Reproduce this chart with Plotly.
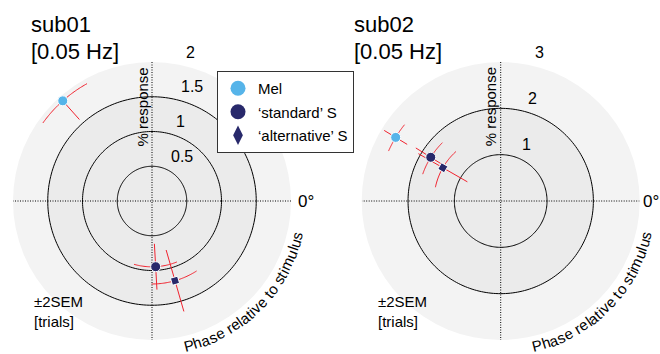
import numpy as np
import plotly.graph_objects as go

FONT = "Liberation Sans, Arial, Helvetica, sans-serif"

# ---------------- data ----------------
subjects = ["sub01", "sub02"]
freq_label = "[0.05 Hz]"
series_names = ["Mel", "\u2018standard\u2019 S", "\u2018alternative\u2019 S"]

sub01_amp = [1.93, 0.947, 1.194]
sub01_phase = [131.7, -86.8, -73.9]
sub01_amp_err = [0.36, 0.33, 0.46]
sub01_phase_err = [12.7, 19.0, 16.4]
sub01_ticks = [0.5, 1, 1.5, 2]
sub01_tick_labels = ["0.5", "1", "1.5", "2"]

sub02_amp = [2.65, 1.78, 1.44]
sub02_phase = [148.8, 148.0, 150.1]
sub02_amp_err = [0.29, 0.38, 0.61]
sub02_phase_err = [7.2, 13.0, 18.0]
sub02_ticks = [1, 2, 3]
sub02_tick_labels = ["1", "2", "3"]

angle_label = "0\u00b0"
radial_title = "% response"
phase_title = "Phase relative to stimulus"
sem_note = "\u00b12SEM<br>[trials]"

# ---------------- styles / layout ----------------
W, H = 660, 354
R_PX = 139
CENTERS = [(152, 201), (500.7, 201)]
SEM_DX_PX = [-120, -125]
TITLE_X_PX = [29, 352]
COLORS = ["#56b4e9", "#28296b", "#28296b"]
SYMBOLS = ["circle", "circle", "diamond"]
SIZES = [10, 10, 8]
LEG_SYMBOLS = ["circle", "circle", "diamond-tall"]
LEG_SIZES = [15, 15, 14]
RED = "#f0222e"
BG_OUT = "#f3f3f3"
BG_IN = "#ebebeb"

# Helvetica/Arial advance widths (em) for arc text layout
CW = {"P": .667, "h": .556, "a": .556, "s": .5, "e": .556, " ": .278, "r": .333,
      "l": .222, "t": .278, "i": .222, "v": .5, "o": .556, "m": .833, "u": .556}
ARC_FONT = 15
ARC_R_PX = 149
ARC_START_DEG = -75.8

subs = [
    dict(amp=sub01_amp, ph=sub01_phase, ae=sub01_amp_err, pe=sub01_phase_err,
         ticks=sub01_ticks, labels=sub01_tick_labels),
    dict(amp=sub02_amp, ph=sub02_phase, ae=sub02_amp_err, pe=sub02_phase_err,
         ticks=sub02_ticks, labels=sub02_tick_labels),
]

fig = go.Figure()
annotations = []
layout = {}

for i, s in enumerate(subs):
    k = "" if i == 0 else str(i + 1)
    pid = "polar" + k
    cx, cy = CENTERS[i]
    xd = [(cx - R_PX) / W, (cx + R_PX) / W]
    yd = [(H - cy - R_PX) / H, (H - cy + R_PX) / H]
    rmax = s["ticks"][-1]
    ppu = R_PX / rmax
    full = np.linspace(0, 360, 241)

    # inner shaded disk with ring
    rin = s["ticks"][-2]
    fig.add_trace(go.Scatterpolar(r=[rin] * len(full), theta=full, mode="lines",
                                  fill="toself", fillcolor=BG_IN,
                                  line=dict(color="black", width=1),
                                  subplot=pid, showlegend=False, hoverinfo="skip"))
    for t in s["ticks"][:-2]:
        fig.add_trace(go.Scatterpolar(r=[t] * len(full), theta=full, mode="lines",
                                      line=dict(color="black", width=1),
                                      subplot=pid, showlegend=False, hoverinfo="skip"))
    # dotted axes
    for a in (0, 90):
        fig.add_trace(go.Scatterpolar(r=[rmax, 0, rmax], theta=[a, a, a + 180], mode="lines",
                                      line=dict(color="black", width=1, dash="1px,1.5px"),
                                      subplot=pid, showlegend=False, hoverinfo="skip"))
    # error bars
    for j in range(3):
        r0, t0, re, te = s["amp"][j], s["ph"][j], s["ae"][j], s["pe"][j]
        fig.add_trace(go.Scatterpolar(r=[r0 - re, r0 + re], theta=[t0, t0], mode="lines",
                                      line=dict(color=RED, width=1),
                                      subplot=pid, showlegend=False, hoverinfo="skip"))
        arc = np.linspace(t0 - te, t0 + te, 40)
        fig.add_trace(go.Scatterpolar(r=[r0] * len(arc), theta=arc, mode="lines",
                                      line=dict(color=RED, width=1),
                                      subplot=pid, showlegend=False, hoverinfo="skip"))
    # markers
    for j in range(3):
        ang = (45 - s["ph"][j]) if SYMBOLS[j] == "diamond" else 0
        fig.add_trace(go.Scatterpolar(r=[s["amp"][j]], theta=[s["ph"][j]], mode="markers",
                                      marker=dict(symbol=SYMBOLS[j], size=SIZES[j], color=COLORS[j],
                                                  angle=ang, line=dict(color="white", width=1)),
                                      subplot=pid, showlegend=False, name=series_names[j]))

    layout[pid] = dict(
        domain=dict(x=xd, y=yd), bgcolor=BG_OUT, hole=0,
        radialaxis=dict(range=[0, rmax], visible=False),
        angularaxis=dict(rotation=0, direction="counterclockwise", showgrid=False,
                         showline=False, ticks="", showticklabels=False),
    )
    # overlay cartesian axes (whole paper, same scale as polar) for text placement
    xa, ya = "x" + k, "y" + k
    fig.add_trace(go.Scatter(x=[None], y=[None], xaxis=xa, yaxis=ya, showlegend=False,
                             hoverinfo="skip"))
    xr = [-cx / ppu, (W - cx) / ppu]
    yr = [-(H - cy) / ppu, cy / ppu]
    xax = dict(domain=[0, 1], range=xr, visible=False, fixedrange=True)
    yax = dict(domain=[0, 1], range=yr, visible=False, fixedrange=True)
    if i > 0:
        xax["overlaying"] = "x"
        yax["overlaying"] = "y"
    layout["xaxis" + k] = xax
    layout["yaxis" + k] = yax

    # radial tick labels
    for t, lab in zip(s["ticks"], s["labels"]):
        dy = t + 10 / ppu
        dx = 11 / ppu + 0.14 * dy
        annotations.append(dict(x=dx, y=dy, xref=xa, yref=ya, text=lab, showarrow=False,
                                xanchor="left", yanchor="middle",
                                font=dict(family=FONT, size=16, color="black")))
    # angular label (kept inside the canvas)
    lab_px = min(R_PX + 4.5, W - cx - 19)
    annotations.append(dict(x=lab_px / ppu, y=0, xref=xa, yref=ya, text=angle_label,
                            showarrow=False, xanchor="left", yanchor="middle",
                            font=dict(family=FONT, size=17, color="black")))
    annotations.append(dict(x=-10.5 / ppu, y=94 / ppu, xref=xa, yref=ya, text=radial_title,
                            showarrow=False, textangle=-90, xanchor="center", yanchor="middle",
                            font=dict(family=FONT, size=15, color="black")))
    annotations.append(dict(x=SEM_DX_PX[i] / ppu, y=-110 / ppu, xref=xa, yref=ya, text=sem_note,
                            showarrow=False, xanchor="left", yanchor="middle", align="left",
                            font=dict(family=FONT, size=15, color="black")))
    # curved phase title
    pos = 0.0
    first_c = None
    for ch in phase_title:
        w = CW.get(ch, 0.5) * ARC_FONT
        c = pos + w / 2
        if first_c is None:
            first_c = c
        pos += w
        if ch == " ":
            continue
        th = np.radians(ARC_START_DEG) + (c - first_c) / ARC_R_PX
        rr = ARC_R_PX / ppu
        annotations.append(dict(x=rr * np.cos(th), y=rr * np.sin(th), xref=xa, yref=ya,
                                text=ch, showarrow=False, xanchor="center", yanchor="middle",
                                textangle=-(np.degrees(th) + 90),
                                font=dict(family=FONT, size=ARC_FONT, color="black")))
    # titles
    annotations.append(dict(x=TITLE_X_PX[i] / W, y=1 - 24 / H, xref="paper", yref="paper",
                            text=subjects[i], showarrow=False, xanchor="left", yanchor="middle",
                            font=dict(family=FONT, size=22, color="black")))
    annotations.append(dict(x=TITLE_X_PX[i] / W, y=1 - 51 / H, xref="paper", yref="paper",
                            text=freq_label, showarrow=False, xanchor="left", yanchor="middle",
                            font=dict(family=FONT, size=22, color="black")))

# legend entries
for j in range(3):
    fig.add_trace(go.Scatterpolar(r=[None], theta=[None], mode="markers", name=series_names[j],
                                  legendgroup="g%d" % j, subplot="polar",
                                  marker=dict(symbol=LEG_SYMBOLS[j], size=LEG_SIZES[j],
                                              color=COLORS[j])))

fig.update_layout(
    width=W, height=H, autosize=False,
    margin=dict(l=0, r=0, t=0, b=0),
    paper_bgcolor="white", plot_bgcolor="rgba(0,0,0,0)",
    font=dict(family=FONT, size=15, color="black"),
    showlegend=True,
    legend=dict(x=217 / W, y=1 - 71 / H, xanchor="left", yanchor="top",
                bgcolor="white", bordercolor="#333333", borderwidth=1,
                font=dict(family=FONT, size=15, color="black"),
                tracegroupgap=1, itemsizing="trace"),
    annotations=annotations,
    **layout,
)

fig.write_html("out.html", config={"displayModeBar": False, "staticPlot": True},
               post_script="document.body.style.margin='0';")
